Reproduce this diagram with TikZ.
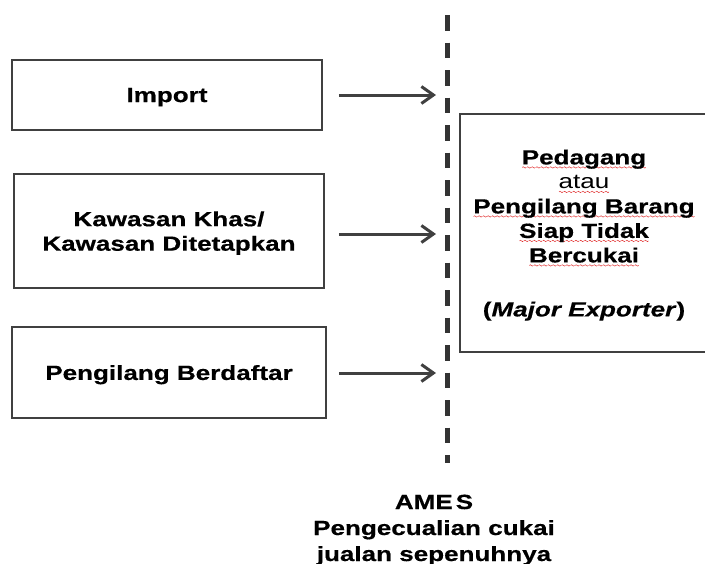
\documentclass[tikz,border=0pt]{standalone}
\usepackage{fontspec}
\setmainfont{Liberation Sans}[FakeStretch=1.27, BoldFeatures={FakeBold=0.5}, BoldItalicFeatures={FakeBold=0.5}]
\usetikzlibrary{arrows.meta}
\definecolor{ink}{HTML}{404040}
\definecolor{dline}{HTML}{333333}
\definecolor{spell}{HTML}{E03030}
\newsavebox\wavebox
\AtBeginDocument{\sbox\wavebox{\begin{pgfpicture}\pgfsetlinewidth{0.5pt}\pgfsetstrokecolor{spell}%
\pgfpathmoveto{\pgfpoint{0pt}{0pt}}\pgfpathsine{\pgfpoint{1pt}{0.7pt}}\pgfpathcosine{\pgfpoint{1pt}{-0.7pt}}%
\pgfpathsine{\pgfpoint{1pt}{-0.7pt}}\pgfpathcosine{\pgfpoint{1pt}{0.7pt}}\pgfusepath{stroke}\pgfsetbaseline{0pt}\end{pgfpicture}}}
\newcommand\spw[1]{\setbox0\hbox{#1}\leavevmode\rlap{\raisebox{-3pt}[0pt][0pt]{\hbox to\wd0{\xleaders\copy\wavebox\hfill}}}\box0}
\begin{document}
\begin{tikzpicture}[x=1pt,y=-1pt,
  txt/.style={font=\fontsize{20.5}{24.5}\selectfont\bfseries, align=center, inner sep=0pt},
  box/.style={txt, draw=ink, line width=1.5pt, text depth=0pt},
  arr/.style={draw=ink, line width=3pt, -{Straight Barb[length=12pt,width=17pt]}},
  divider/.style={draw=dline, line width=5pt, dash pattern=on 15.5pt off 12pt}]
\useasboundingbox (0,0) rectangle (705,563);
\node[box, minimum width=310pt, minimum height=70pt] (imp) at (167,95) {Import};
\node[box, minimum width=310pt, minimum height=114pt] (kaw) at (169,231) {Kawasan Khas/\\Kawasan Ditetapkan};
\node[box, minimum width=314pt, minimum height=91pt] (pen) at (169,372.5) {Pengilang Berdaftar};
\node[box, minimum width=248pt, minimum height=238pt] (ped) at (584,233)
  {\spw{Pedagang}\\{\mdseries\spw{atau}}\\\spw{Pengilang Barang}\\\spw{Siap Tidak}\\\spw{Bercukai}\\[29.5pt](\textit{Major Exporter})};
\coordinate (top) at (447,15);
\coordinate (bot) at (447,463);
\draw[divider] (top) -- (bot);
\coordinate (t1) at (436,95);
\coordinate (t2) at (436,234);
\coordinate (t3) at (436,373);
\draw[arr, shorten <=16pt] (imp.east |- t1) -- (t1);
\draw[arr, shorten <=14pt] (kaw.east |- t2) -- (t2);
\draw[arr, shorten <=12pt] (pen.east |- t3) -- (t3);
\node[txt, font=\fontsize{20.5}{26}\selectfont\bfseries, anchor=north] (ames) at (434,494.5) {AME\kern3pt S\\Pengecualian cukai\\jualan sepenuhnya};
\end{tikzpicture}
\end{document}
